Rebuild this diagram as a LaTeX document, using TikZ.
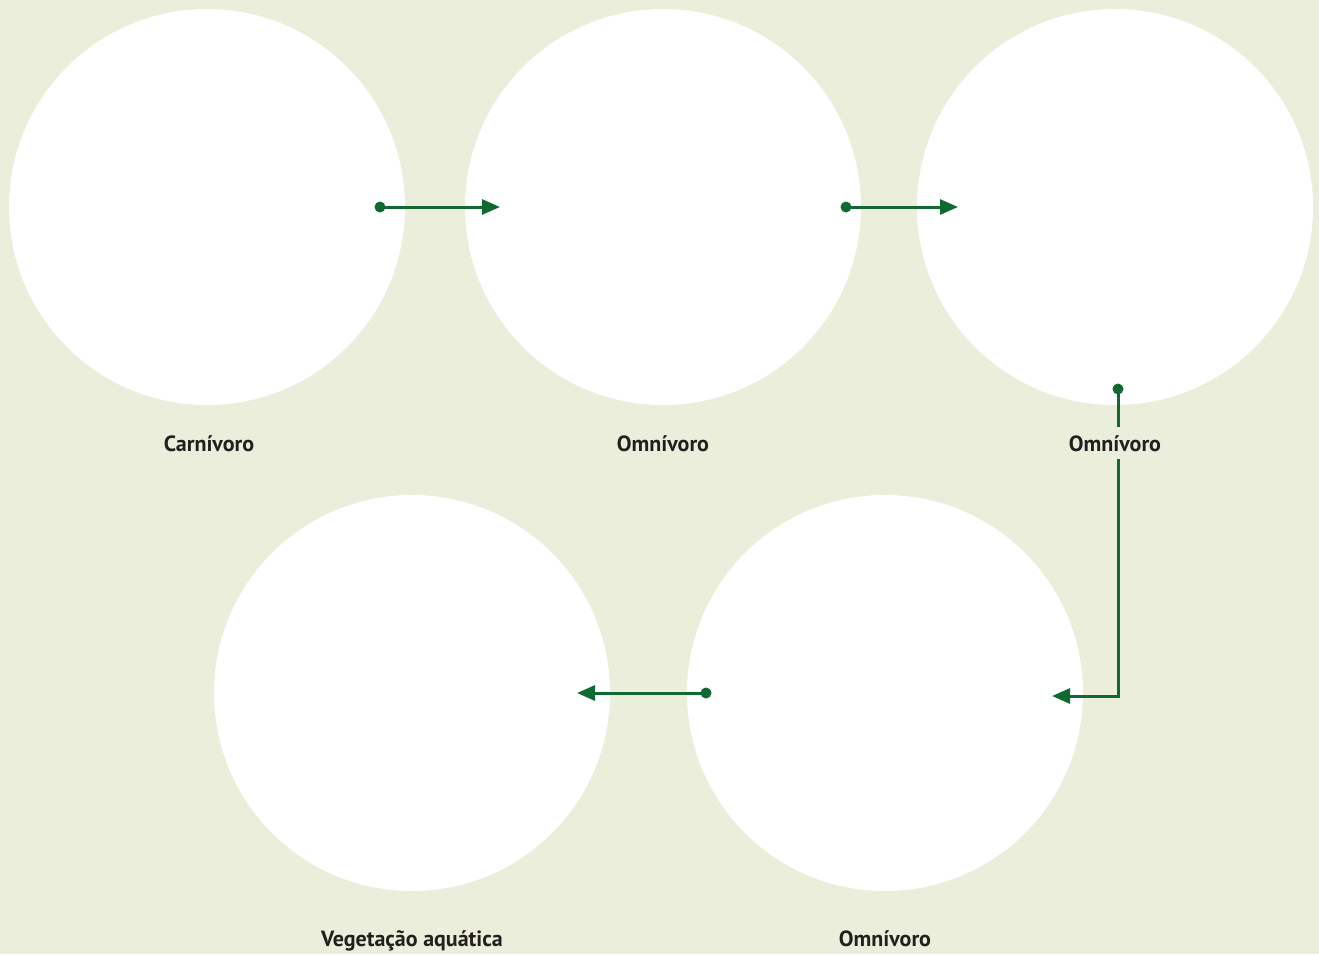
\documentclass[tikz,border=0pt]{standalone}
\usepackage{fontspec}
\setmainfont{PT Sans}
\usetikzlibrary{arrows.meta}
\definecolor{bg}{HTML}{EAEEDA}
\definecolor{lg}{HTML}{0F6A32}
\definecolor{tx}{HTML}{231F20}
\begin{document}
\begin{tikzpicture}[x=1pt,y=-1pt,
  disc/.style={circle,fill=white,minimum size=396pt,inner sep=0pt},
  lbl/.style={font=\bfseries\fontsize{22}{26}\selectfont,text=tx,inner sep=4pt,anchor=base},
  conn/.style={draw=lg,line width=3pt,-{Triangle[length=18pt,width=15pt]}},
  dotc/.style={circle,fill=lg,minimum size=11pt,inner sep=0pt}]
\fill[bg] (0,0) rectangle (1319,954);
\useasboundingbox (0,0) rectangle (1319,954);
\node[disc] (c1) at (207,207) {};
\node[disc] (c2) at (663,207) {};
\node[disc] (c3) at (1115,207) {};
\node[disc] (c4) at (412,693) {};
\node[disc] (c5) at (885,693) {};
\node[dotc] (d1) at (380,207) {};
\coordinate (e1) at (500,207);
\node[dotc] (d2) at (846,207) {};
\coordinate (e2) at (958,207);
\node[dotc] (d3) at (1118,389) {};
\coordinate (k3) at (1118,696);
\coordinate (e3) at (1052,696);
\node[dotc] (d4) at (706,693) {};
\coordinate (e4) at (577,693);
\draw[conn] (d1.center) -- (e1);
\draw[conn] (d2.center) -- (e2);
\draw[conn] (d3.center) -- (k3) -- (e3);
\draw[conn] (d4.center) -- (e4);
\node[lbl] (l1) at (209,451) {Carnívoro};
\node[lbl] (l2) at (663,451) {Omnívoro};
\node[lbl,fill=bg,inner ysep=8pt] (l3) at (1115,451) {Omnívoro};
\node[lbl] (l4) at (412,946) {Vegetação aquática};
\node[lbl] (l5) at (885,946) {Omnívoro};
\end{tikzpicture}
\end{document}
